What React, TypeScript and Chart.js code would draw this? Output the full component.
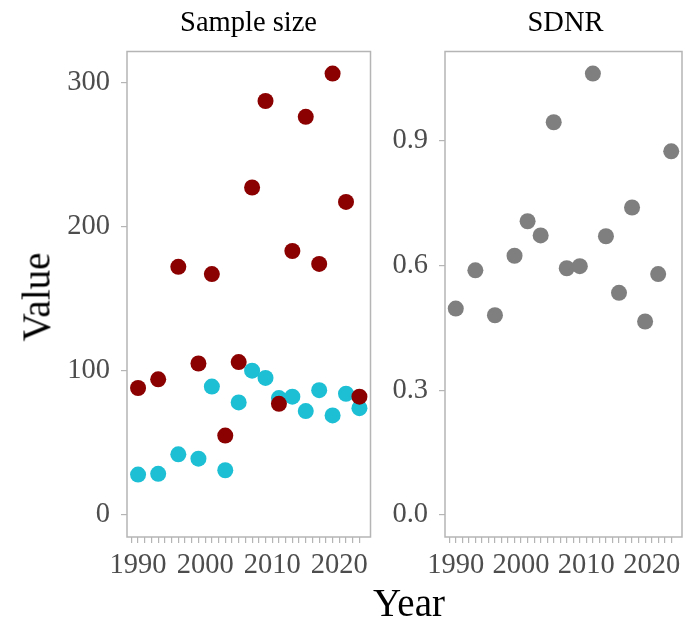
import React, { useEffect, useRef } from "react";
import { Chart, registerables } from "chart.js";

Chart.register(...registerables);

// ---- data ----
const years = [1990, 1993, 1996, 1999, 2001, 2003, 2005, 2007, 2009, 2011, 2013, 2015, 2017, 2019, 2021, 2023];
const sampleSizeDark = [88, 94, 172, 105, 167, 55, 106, 227, 287, 77, 183, 276, 174, 306, 217, 82];
const sampleSizeLight = [28, 28.5, 42, 39, 89, 31, 78, 100, 95, 81, 82, 72, 86.5, 69, 84, 74];
const sdnr = [0.496, 0.588, 0.48, 0.623, 0.706, 0.672, 0.944, 0.593, 0.598, 1.061, 0.67, 0.534, 0.739, 0.465, 0.579, 0.874];
const sampleTicks = [0, 100, 200, 300];
const sdnrTicks = [0, 0.3, 0.6, 0.9];
const yearLabels = [1990, 2000, 2010, 2020];
const minorYearFirst = 1989;
const minorYearLast = 2023;

const FONT = "'Liberation Serif', 'Times New Roman', serif";
const TICK_COLOR = "#4d4d4d";
const LINE_COLOR = "#b5b5b5";

const minorYears: number[] = [];
for (let y = minorYearFirst; y <= minorYearLast; y++) minorYears.push(y);

function expand(lo: number, hi: number) {
  const p = (hi - lo) * 0.05;
  return [lo - p, hi + p];
}

const panelBorder = {
  id: "panelBorder",
  afterDraw(chart: any) {
    const { ctx, chartArea: a } = chart;
    ctx.save();
    ctx.strokeStyle = LINE_COLOR;
    ctx.lineWidth = 1.5;
    ctx.strokeRect(a.left, a.top, a.right - a.left, a.bottom - a.top);
    ctx.restore();
  },
};

type PanelProps = {
  left: number;
  width: number;
  datasets: { values: number[]; color: string }[];
  yTicks: number[];
  yDecimals: number;
  yAxisWidth: number;
  padRight: number;
};

function Panel(props: PanelProps) {
  const ref = useRef<HTMLCanvasElement | null>(null);
  useEffect(() => {
    if (!ref.current) return;
    const allVals: number[] = [];
    props.datasets.forEach((d) => allVals.push(...d.values));
    const [ymin, ymax] = expand(0, Math.max(...allVals));
    const [xmin, xmax] = expand(Math.min(...years), Math.max(...years));
    const chart = new Chart(ref.current, {
      type: "scatter",
      data: {
        datasets: props.datasets.map((d) => ({
          data: years.map((yr, i) => ({ x: yr, y: d.values[i] })),
          backgroundColor: d.color,
          borderColor: d.color,
          borderWidth: 0,
          pointRadius: 8,
          pointHoverRadius: 8,
        })),
      },
      options: {
        responsive: false,
        animation: false,
        events: [],
        layout: { padding: { left: 0, right: props.padRight, top: 51.5, bottom: 0 } },
        plugins: {
          legend: { display: false },
          tooltip: { enabled: false },
          title: { display: false },
        },
        scales: {
          x: {
            type: "linear",
            min: xmin,
            max: xmax,
            border: { display: false },
            grid: { drawOnChartArea: false, drawTicks: true, tickLength: 6, color: LINE_COLOR, lineWidth: 1.2 },
            afterBuildTicks: (s: any) => {
              s.ticks = minorYears.map((v) => ({ value: v }));
            },
            afterFit: (s: any) => {
              s.height = 622 - 537;
            },
            ticks: {
              autoSkip: false,
              maxRotation: 0,
              minRotation: 0,
              padding: 5,
              color: TICK_COLOR,
              font: { family: FONT, size: 28.5 },
              callback: (v: any) => (yearLabels.includes(Number(v)) ? String(v) : ""),
            },
          },
          y: {
            type: "linear",
            min: ymin,
            max: ymax,
            border: { display: false },
            grid: { drawOnChartArea: false, drawTicks: true, tickLength: 6, color: LINE_COLOR, lineWidth: 1.2 },
            afterBuildTicks: (s: any) => {
              s.ticks = props.yTicks.map((v) => ({ value: v }));
            },
            afterFit: (s: any) => {
              s.width = props.yAxisWidth;
            },
            ticks: {
              padding: 11,
              color: TICK_COLOR,
              font: { family: FONT, size: 28.5 },
              callback: (v: any) => Number(v).toFixed(props.yDecimals),
            },
          },
        },
      },
      plugins: [panelBorder],
    } as any);
    return () => chart.destroy();
  }, []);
  return (
    <canvas
      ref={ref}
      width={props.width}
      height={622}
      style={{ position: "absolute", left: props.left, top: 0, width: props.width, height: 622 }}
    />
  );
}

const textBase: React.CSSProperties = {
  position: "absolute",
  fontFamily: FONT,
  color: "#000",
  whiteSpace: "nowrap",
};

export default function App() {
  return (
    <div style={{ position: "absolute", left: 0, top: 0, width: 690, height: 622, background: "#fff", overflow: "hidden" }}>
      <Panel
        left={0}
        width={380}
        datasets={[
          { values: sampleSizeDark, color: "#8b0000" },
          { values: sampleSizeLight, color: "#1cbfd4" },
        ]}
        yTicks={sampleTicks}
        yDecimals={0}
        yAxisWidth={127}
        padRight={9.5}
      />
      <Panel
        left={380}
        width={310}
        datasets={[{ values: sdnr, color: "#7f7f7f" }]}
        yTicks={sdnrTicks}
        yDecimals={1}
        yAxisWidth={65}
        padRight={3}
      />
      <div style={{ ...textBase, left: 248.5, top: 7.6, fontSize: 28.5, lineHeight: "28.5px", transform: "translateX(-50%)" }}>
        Sample size
      </div>
      <div style={{ ...textBase, left: 565.5, top: 7.6, fontSize: 28.5, lineHeight: "28.5px", transform: "translateX(-50%)" }}>
        SDNR
      </div>
      <div
        style={{
          ...textBase,
          left: 36,
          top: 297,
          transform: "translate(-50%, -50%) rotate(-90deg)",
          fontSize: 39,
          lineHeight: "39px",
        }}
      >
        Value
      </div>
      <div style={{ ...textBase, left: 409, top: 583, transform: "translateX(-50%)", fontSize: 39, lineHeight: "39px" }}>
        Year
      </div>
    </div>
  );
}
